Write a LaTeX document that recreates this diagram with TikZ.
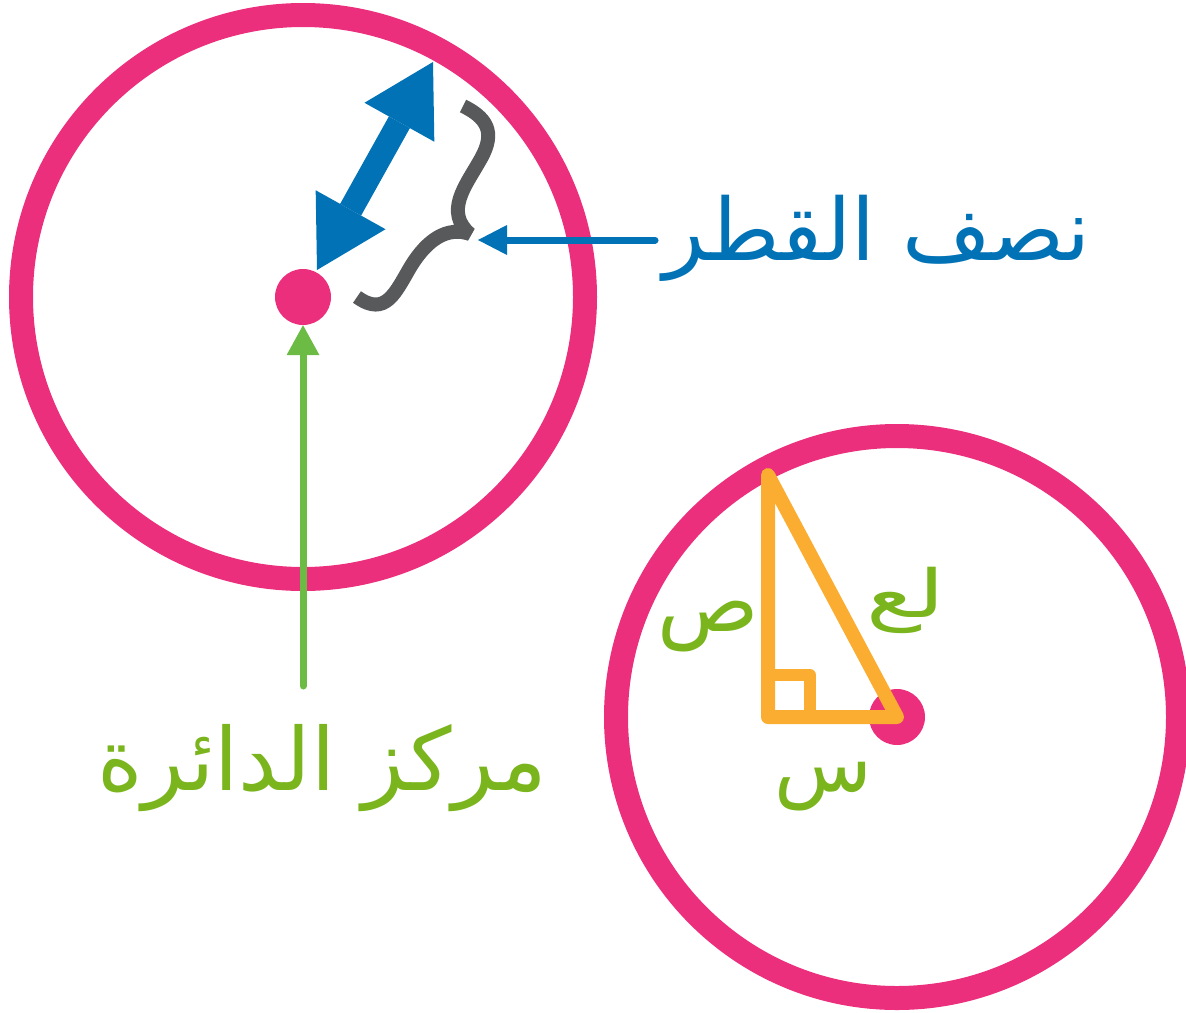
\documentclass[tikz,border=0pt]{standalone}
\usepackage{fontspec}
\usetikzlibrary{arrows.meta}
\newfontfamily\arabicfont[Script=Arabic]{DejaVu Sans}
\TeXXeTstate=1
\definecolor{cpink}{RGB}{236,47,124}
\definecolor{cblue}{RGB}{0,114,181}
\definecolor{cgreen}{RGB}{122,181,29}
\definecolor{cgarrow}{RGB}{108,187,69}
\definecolor{cgrey}{RGB}{88,89,91}
\definecolor{corange}{RGB}{250,173,48}
\tikzset{
  dot/.style={circle, fill=cpink, minimum size=56pt, inner sep=0pt},
  ring/.style={draw=cpink, line width=24pt},
  arlabel/.style={font=\arabicfont\fontsize{#1}{#1}\selectfont, inner sep=0pt},
}
\begin{document}
\begin{tikzpicture}[x=1pt,y=-1pt]
\useasboundingbox (0,0) rectangle (1186,1012);
\clip (0,0) rectangle (1186,1012);
% circles
\node[dot] (c1) at (303,297) {};
\node[dot] (c2) at (897,717) {};
\draw[ring] (c1.center) circle[radius=282pt];
\draw[ring] (c2.center) circle[radius=281pt];
% center label and green arrow
\node[arlabel=87, text=cgreen] (center) at (322,768) {\beginR مركز الدائرة\endR};
\coordinate (gstart) at (303,686);
\draw[cgarrow, line width=7pt, line cap=round,
  -{Triangle[length=30pt,width=33pt,line width=0pt]}] (gstart) -- (c1.south);
% radius label and blue arrow
\node[arlabel=86, text=cblue] (radius) at (877,238) {\beginR نصف القطر\endR};
\coordinate (bstart) at (655,240);
\coordinate (btip) at (478,240);
\draw[cblue, line width=7pt, line cap=round,
  -{Triangle[length=29pt,width=30pt,line width=0pt]}] (bstart) -- (btip);
% double arrow
\coordinate (da1) at (317,270);
\coordinate (da2) at (433,62);
\draw[cblue, line width=24pt,
  {Triangle[length=69pt,width=80pt,line width=0pt]}-{Triangle[length=69pt,width=80pt,line width=0pt]}] (da1) -- (da2);
% brace
\draw[cgrey, line width=14pt, line join=miter, miter limit=2.2]
  (463,106) .. controls (492,120) and (494,137) .. (479,162)
  .. controls (466,185) and (444,212) .. (470,234)
  .. controls (447,226) and (427,240) .. (411,266)
  .. controls (396,291) and (386,318) .. (357,297);
% right triangle
\coordinate (tA) at (768,475);
\coordinate (tB) at (768,717);
\draw[corange, line width=14pt, line join=round, line cap=round]
  (tA) -- (tB) -- (c2.center) -- cycle;
\draw[corange, line width=12pt, line join=round]
  (768,675) -- (810,675) -- (810,717);
% labels
\node[arlabel=84, text=cgreen] (ly) at (708,627) {\beginR ص\endR};
\node[arlabel=80, text=cgreen] (lx) at (823,787) {\beginR س\endR};
\node[arlabel=72, text=cgreen, xscale=1.3, yscale=0.92] (lr) at (906,600) {\beginR لع\endR};
\end{tikzpicture}
\end{document}
